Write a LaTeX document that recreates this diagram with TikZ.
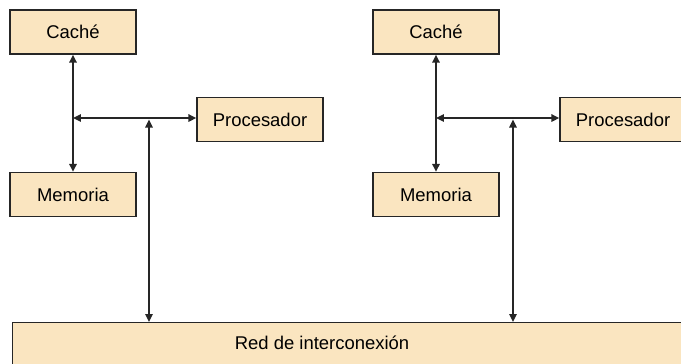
\documentclass[tikz,border=0pt]{standalone}
\usepackage{fontspec}
\setmainfont{Liberation Sans}
\usepackage{tikz}
\usetikzlibrary{arrows.meta,calc}

\definecolor{boxfill}{RGB}{250,229,192}

\tikzset{
    bloque/.style={draw=black!85, line width=0.8pt, fill=boxfill,
        minimum width=2.52cm, minimum height=0.88cm, inner sep=0pt,
        font=\fontsize{10.5}{12}\selectfont},
    bus/.style={{Triangle[length=1.6mm,width=1.5mm]}-{Triangle[length=1.6mm,width=1.5mm]},
        line width=0.9pt, black!85}
}

\begin{document}
\begin{tikzpicture}[x=0.02cm,y=-0.02cm]
            \useasboundingbox (0,0) rectangle (681,363);
            \clip (0,0) rectangle (681,363);
            % nodo izquierdo
            \node[bloque] (Cache0) at (73,32) {Caché};
            \node[bloque] (Mem0) at (73,194.5) {Memoria};
            \node[bloque] (Proc0) at (260,119.5) {Procesador};
            % nodo derecho
            \node[bloque] (Cache1) at (436,32) {Caché};
            \node[bloque] (Mem1) at (436,194.5) {Memoria};
            \node[bloque] (Proc1) at (623,119.5) {Procesador};
            % red
            \node[bloque, anchor=north west, minimum width=14cm, minimum height=1.2cm] (Red) at (12,322) {};
            \node[font=\fontsize{10.5}{12}\selectfont] (RedTxt) at (322,343) {Red de interconexión};
            \coordinate (J0) at (73,118);
            \coordinate (B0) at (149,118);
            \coordinate (J1) at (436,118);
            \coordinate (B1) at (513,118);
            \draw[bus] (Cache0) -- (Mem0);
            \draw[bus] (J0) -- (J0 -| Proc0.west);
            \draw[bus] ($(B0)+(0,1.5)$) -- (B0 |- Red.north);
            \draw[bus] (Cache1) -- (Mem1);
            \draw[bus] (J1) -- (J1 -| Proc1.west);
            \draw[bus] ($(B1)+(0,1.5)$) -- (B1 |- Red.north);
        \end{tikzpicture}
\end{document}
